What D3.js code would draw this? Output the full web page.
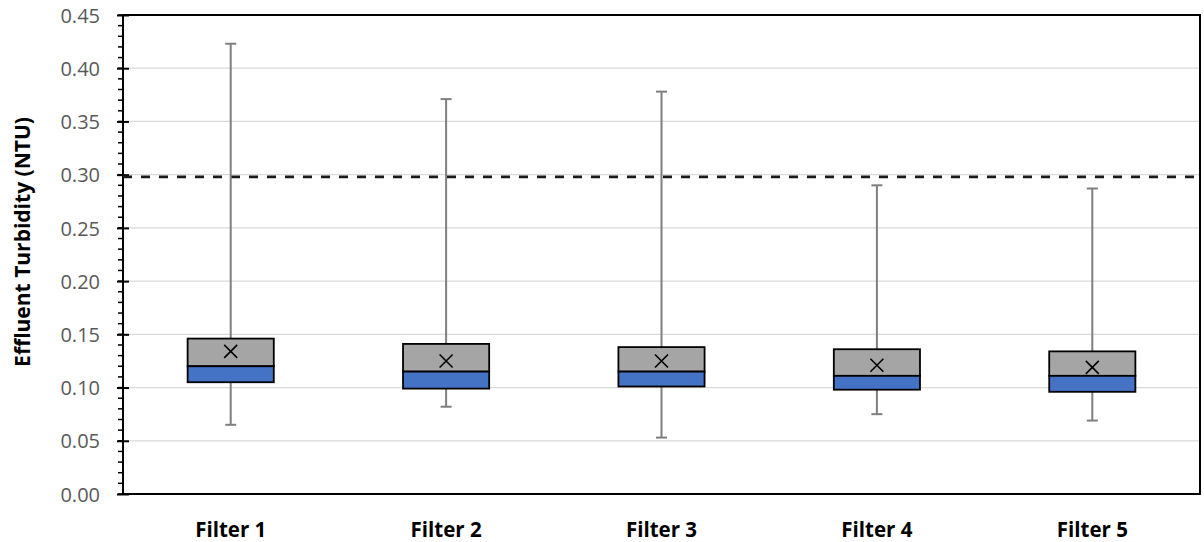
<!DOCTYPE html>
<html>
<head>
<meta charset="utf-8">
<script src="https://cdn.jsdelivr.net/npm/d3@7"></script>
<style>
  html, body { margin: 0; padding: 0; background: #fff; }
  svg { display: block; font-family: "Open Sans", Lato, sans-serif; }
</style>
</head>
<body>
<svg id="chart" width="1204" height="542"></svg>
<script>
// Effluent turbidity summary per filter (NTU)
const categories = ["Filter 1", "Filter 2", "Filter 3", "Filter 4", "Filter 5"];
const minValues    = [0.065, 0.082, 0.053, 0.075, 0.069];
const q1Values     = [0.105, 0.099, 0.101, 0.098, 0.096];
const medianValues = [0.120, 0.115, 0.115, 0.111, 0.111];
const q3Values     = [0.146, 0.141, 0.138, 0.136, 0.134];
const maxValues    = [0.423, 0.371, 0.378, 0.290, 0.287];
const meanValues   = [0.134, 0.125, 0.125, 0.121, 0.119];
const limitValue = 0.298;
const yTicks = [0, 0.05, 0.10, 0.15, 0.20, 0.25, 0.30, 0.35, 0.40, 0.45];
const yTitle = "Effluent Turbidity (NTU)";

const svg = d3.select("#chart");
const plotLeft = 123, plotRight = 1200, plotTop = 15, plotBottom = 494;

const x = d3.scaleBand().domain(categories).range([plotLeft, plotRight]).paddingInner(0).paddingOuter(0);
const y = d3.scaleLinear().domain([0, 0.45]).range([plotBottom, plotTop]);

// horizontal gridlines
svg.append("g").selectAll("line").data(yTicks.slice(1, -1)).join("line")
  .attr("x1", plotLeft).attr("x2", plotRight)
  .attr("y1", d => y(d)).attr("y2", d => y(d))
  .attr("stroke", "#d9d9d9").attr("stroke-width", 1.3);

// minor ticks on the value axis
const minor = d3.range(0, 46).map(i => i / 100);
svg.append("g").selectAll("line").data(minor).join("line")
  .attr("x1", plotLeft - 5).attr("x2", plotLeft)
  .attr("y1", d => y(d)).attr("y2", d => y(d))
  .attr("stroke", "#000").attr("stroke-width", 1.5);

// major ticks and labels
const yAxis = d3.axisLeft(y).tickValues(yTicks).tickFormat(d3.format(".2f")).tickSize(6);
const yg = svg.append("g").attr("transform", `translate(${plotLeft},0)`).call(yAxis);
yg.select(".domain").remove();
yg.selectAll(".tick line").attr("x1", -6).attr("x2", 6).attr("stroke", "#000").attr("stroke-width", 2);
yg.selectAll(".tick text").attr("x", -23).attr("dy", "0.36em").attr("fill", "#595959").attr("font-size", 20)
  .attr("font-family", "'Open Sans', sans-serif");

// plot frame
svg.append("rect").attr("x", plotLeft).attr("y", plotTop).attr("width", plotRight - plotLeft).attr("height", plotBottom - plotTop)
  .attr("fill", "none").attr("stroke", "#000").attr("stroke-width", 2);

// reference limit line
svg.append("line")
  .attr("x1", plotLeft).attr("x2", plotRight)
  .attr("y1", y(limitValue)).attr("y2", y(limitValue))
  .attr("stroke", "#1a1a1a").attr("stroke-width", 2.8).attr("stroke-dasharray", "9,9");

// box plots
const boxW = x.bandwidth() * 0.4;
const capW = 11;
const idx = d3.range(categories.length);
const g = svg.append("g");
idx.forEach(i => {
  const cx = x(categories[i]) + x.bandwidth() / 2;
  const bg = g.append("g");
  // whiskers
  bg.append("line").attr("x1", cx).attr("x2", cx).attr("y1", y(maxValues[i])).attr("y2", y(q3Values[i]))
    .attr("stroke", "#7f7f7f").attr("stroke-width", 2);
  bg.append("line").attr("x1", cx).attr("x2", cx).attr("y1", y(q1Values[i])).attr("y2", y(minValues[i]))
    .attr("stroke", "#7f7f7f").attr("stroke-width", 2);
  bg.append("line").attr("x1", cx - capW / 2).attr("x2", cx + capW / 2).attr("y1", y(maxValues[i])).attr("y2", y(maxValues[i]))
    .attr("stroke", "#7f7f7f").attr("stroke-width", 2);
  bg.append("line").attr("x1", cx - capW / 2).attr("x2", cx + capW / 2).attr("y1", y(minValues[i])).attr("y2", y(minValues[i]))
    .attr("stroke", "#7f7f7f").attr("stroke-width", 2);
  // upper quartile box
  bg.append("rect").attr("x", cx - boxW / 2).attr("width", boxW)
    .attr("y", y(q3Values[i])).attr("height", y(medianValues[i]) - y(q3Values[i]))
    .attr("fill", "#a5a5a5").attr("stroke", "#000").attr("stroke-width", 1.8);
  // lower quartile box
  bg.append("rect").attr("x", cx - boxW / 2).attr("width", boxW)
    .attr("y", y(medianValues[i])).attr("height", y(q1Values[i]) - y(medianValues[i]))
    .attr("fill", "#4472c4").attr("stroke", "#000").attr("stroke-width", 1.8);
  // mean marker
  const my = y(meanValues[i]), s = 6.5;
  bg.append("path").attr("d", `M${cx - s},${my - s}L${cx + s},${my + s}M${cx - s},${my + s}L${cx + s},${my - s}`)
    .attr("stroke", "#000").attr("stroke-width", 1.6).attr("fill", "none");
});

// category labels
svg.append("g").selectAll("text").data(categories).join("text")
  .attr("x", d => x(d) + x.bandwidth() / 2).attr("y", 537)
  .attr("text-anchor", "middle").attr("font-size", 20.5).attr("font-weight", "bold").attr("fill", "#000")
  .text(d => d);

// value axis title
svg.append("text")
  .attr("transform", "translate(30,242) rotate(-90)")
  .attr("text-anchor", "middle").attr("font-size", 21).attr("font-weight", "bold").attr("fill", "#000")
  .text(yTitle);
</script>
</body>
</html>
